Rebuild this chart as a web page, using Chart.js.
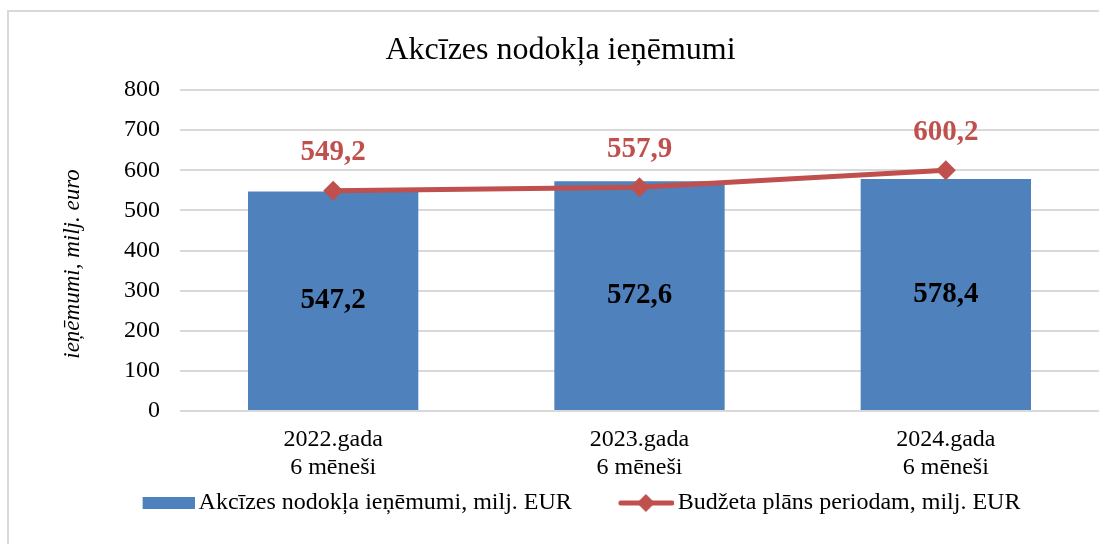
<!DOCTYPE html>
<html>
<head>
<meta charset="utf-8">
<script src="https://cdn.jsdelivr.net/npm/chart.js@4.4.1/dist/chart.umd.min.js"></script>
<style>
  html, body { margin: 0; padding: 0; background: #fff; overflow: hidden; }
  #chart { display: block; }
</style>
</head>
<body>
<canvas id="chart" width="1099" height="544"></canvas>
<script>
// --- data ---
const categories = [["2022.gada", "6 mēneši"], ["2023.gada", "6 mēneši"], ["2024.gada", "6 mēneši"]];
const revenue = [547.2, 572.6, 578.4];
const budgetPlan = [549.2, 557.9, 600.2];
const yTicks = [0, 100, 200, 300, 400, 500, 600, 700, 800];

const FONT = "'Liberation Serif', 'Times New Roman', serif";
const BLUE = "#4F81BD";
const RED = "#C0504D";

const fmt = v => v.toFixed(1).replace(".", ",");

/* legend symbols drawn on small canvases (visible part sits at the right end) */
function barSymbol() {
    const c = document.createElement("canvas");
    c.width = 102; c.height = 14;
    const g = c.getContext("2d");
    g.fillStyle = BLUE;
    g.fillRect(50, 1, 52, 12);
    return c;
}
function lineSymbol() {
    const c = document.createElement("canvas");
    c.width = 102; c.height = 22;
    const g = c.getContext("2d");
    g.strokeStyle = RED; g.lineWidth = 5; g.lineCap = "round";
    g.beginPath(); g.moveTo(49, 11); g.lineTo(100, 11); g.stroke();
    g.fillStyle = RED;
    g.beginPath(); g.moveTo(74, 2); g.lineTo(83, 11); g.lineTo(74, 20); g.lineTo(65, 11); g.closePath(); g.fill();
    return c;
}
const legendIcons = [barSymbol(), lineSymbol()];

/* outer frame (only left and top edges are inside the picture) */
const frame = {
    id: "frame",
    beforeDraw(chart) {
        const ctx = chart.ctx;
        ctx.save();
        ctx.fillStyle = "#d9d9d9";
        ctx.fillRect(7, 10, 2, chart.height - 10);
        ctx.fillRect(7, 10, chart.width - 7, 2);
        ctx.restore();
    }
};

/* value labels + rotated y title */
const valueLabels = {
    id: "valueLabels",
    afterDatasetsDraw(chart) {
        const ctx = chart.ctx;
        ctx.save();
        ctx.textAlign = "center";
        ctx.textBaseline = "middle";
        ctx.font = "bold 29px " + FONT;

        const bars = chart.getDatasetMeta(1);
        ctx.fillStyle = "#000";
        bars.data.forEach((el, i) => {
            ctx.fillText(fmt(revenue[i]), el.x, (el.y + el.base) / 2);
        });

        const line = chart.getDatasetMeta(0);
        ctx.fillStyle = RED;
        line.data.forEach((el, i) => {
            ctx.fillText(fmt(budgetPlan[i]), el.x, el.y - 38);
        });

        // y axis title
        ctx.fillStyle = "#000";
        ctx.font = "italic 23px " + FONT;
        ctx.translate(73, 264);
        ctx.rotate(-Math.PI / 2);
        ctx.fillText("ieņēmumi, milj. euro", 0, 0);
        ctx.restore();
    }
};

new Chart(document.getElementById("chart"), {
    data: {
        labels: categories,
        datasets: [
            {
                type: "line",
                label: "Budžeta plāns periodam, milj. EUR",
                data: budgetPlan,
                borderColor: RED,
                backgroundColor: RED,
                borderWidth: 5,
                pointStyle: "rectRot",
                pointRadius: 10,
                pointHoverRadius: 10,
                pointBackgroundColor: RED,
                pointBorderWidth: 0,
                tension: 0,
                order: 0
            },
            {
                type: "bar",
                label: "Akcīzes nodokļa ieņēmumi, milj. EUR",
                data: revenue,
                backgroundColor: BLUE,
                categoryPercentage: 1,
                barPercentage: 0.556,
                order: 1
            }
        ]
    },
    options: {
        responsive: false,
        animation: false,
        layout: { autoPadding: false, padding: { left: 22, right: 0, top: 0, bottom: 19 } },
        scales: {
            x: {
                afterFit: s => { s.height = 72; s.paddingLeft = 0; s.paddingRight = 0; },
                grid: { display: false, drawTicks: false },
                border: { display: false },
                ticks: {
                    color: "#000",
                    font: { family: FONT, size: 24, lineHeight: 1.2 },
                    padding: 14,
                    maxRotation: 0
                }
            },
            y: {
                min: 0,
                max: 800,
                afterBuildTicks: s => { s.ticks = yTicks.map(v => ({ value: v })); },
                afterFit: s => { s.width = 158; },
                grid: { color: "#d9d9d9", lineWidth: 2, drawTicks: false },
                border: { display: false },
                ticks: {
                    color: "#000",
                    font: { family: FONT, size: 24 },
                    padding: 20
                }
            }
        },
        plugins: {
            title: {
                display: true,
                text: "Akcīzes nodokļa ieņēmumi",
                color: "#000",
                font: { family: FONT, size: 32, weight: "normal", lineHeight: 1.2 },
                padding: { top: 31, bottom: 20.6 }
            },
            legend: {
                position: "bottom",
                reverse: true,
                labels: {
                    color: "#000",
                    font: { family: FONT, size: 24 },
                    usePointStyle: true,
                    pointStyleWidth: 86,
                    padding: 8,
                    generateLabels: chart => {
                        const items = Chart.defaults.plugins.legend.labels.generateLabels(chart);
                        items.forEach(it => {
                            it.pointStyle = it.datasetIndex === 1 ? legendIcons[0] : legendIcons[1];
                        });
                        return items;
                    }
                }
            },
            tooltip: { enabled: false }
        }
    },
    plugins: [frame, valueLabels]
});
</script>
</body>
</html>
